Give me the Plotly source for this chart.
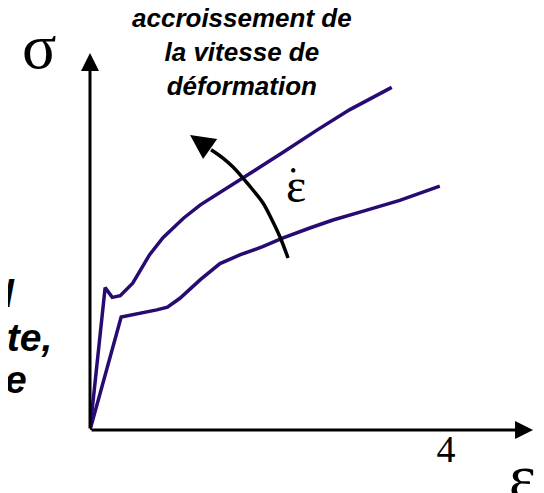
import plotly.graph_objects as go

# stress-strain curves (arbitrary units, x and y on the same scale)
strain_fast = [0, 0.17, 0.25, 0.34, 0.48, 0.67, 0.82, 1.05, 1.24, 1.46, 1.69, 1.91, 2.17, 2.55, 2.92, 3.39]
stress_fast = [0, 1.60, 1.49, 1.51, 1.65, 1.97, 2.16, 2.38, 2.53, 2.67, 2.81, 2.96, 3.12, 3.37, 3.60, 3.85]

strain_slow = [0, 0.35, 0.75, 0.87, 1.01, 1.24, 1.46, 1.69, 1.94, 2.17, 2.47, 2.73, 3.11, 3.48, 3.93]
stress_slow = [0, 1.27, 1.35, 1.38, 1.48, 1.69, 1.87, 1.97, 2.06, 2.16, 2.27, 2.36, 2.47, 2.58, 2.74]

# curved arrow "increasing strain rate"
rate_arrow_x = [2.225, 2.135, 2.045, 1.944, 1.831, 1.719, 1.607, 1.494, 1.36]
rate_arrow_y = [1.933, 2.169, 2.360, 2.551, 2.697, 2.831, 2.955, 3.056, 3.15]
rate_arrow_tip = (1.124, 3.315)

tick_vals = [4]
tick_text = ["4"]

x_end = 4.978
y_end = 4.236

# axis spans (same units as the data); origin sits at the bottom-left of the plot area
X_SPAN = 5.191
Y_SPAN = 4.742

CURVE = 'rgb(40, 10, 115)'
SANS = 'Liberation Sans, Arial, sans-serif'
SERIF = 'Liberation Serif, Times New Roman, serif'


def label(xd, yd, text, font, xanchor='center', **kw):
    # paper coordinates so labels outside the axis ranges are still drawn
    return dict(xref='paper', yref='paper', x=xd / X_SPAN, y=yd / Y_SPAN,
                xanchor=xanchor, yanchor='middle',
                text=text, showarrow=False, font=font, **kw)


fig = go.Figure()
fig.add_trace(go.Scatter(x=strain_fast, y=stress_fast, mode='lines',
                         line=dict(color=CURVE, width=3.5), hoverinfo='skip'))
fig.add_trace(go.Scatter(x=strain_slow, y=stress_slow, mode='lines',
                         line=dict(color=CURVE, width=3.5), hoverinfo='skip'))
fig.add_trace(go.Scatter(x=rate_arrow_x, y=rate_arrow_y, mode='lines',
                         line=dict(color='black', width=3.5, shape='spline'),
                         hoverinfo='skip'))

axis_arrow = dict(xref='x', yref='y', axref='x', ayref='y', text='',
                  showarrow=True, arrowhead=2, arrowsize=1.2, arrowwidth=3,
                  arrowcolor='black', ax=0, ay=0)

big_serif = dict(family=SERIF, size=64, color='black')
left_font = dict(family=SANS, size=39, color='black')

annotations = [
    dict(axis_arrow, x=x_end, y=0),
    dict(axis_arrow, x=0, y=y_end),
    dict(xref='x', yref='y', axref='x', ayref='y', text='', showarrow=True,
         x=rate_arrow_tip[0], y=rate_arrow_tip[1],
         ax=rate_arrow_x[-1], ay=rate_arrow_y[-1],
         arrowhead=2, arrowsize=1.4, arrowwidth=3.5, arrowcolor='black'),
    label(-0.567, 4.31, 'σ', big_serif),
    label(4.865, -0.52, 'ε', big_serif),
    label(2.315, 2.75, 'ε', dict(family=SERIF, size=48, color='black')),
    label(2.28, 2.91, '•', dict(family=SERIF, size=18, color='black')),
    label(1.708, 4.247,
          '<b><i>accroissement de<br>la vitesse de<br>déformation</i></b>',
          dict(family=SANS, size=26, color='black'), align='center'),
    label(-0.82, 1.53, '<b><i>d</i></b>', left_font, xanchor='right'),
    label(-0.40, 1.045, '<b><i>nte,</i></b>', left_font, xanchor='right'),
    label(-0.69, 0.562, '<b><i>e</i></b>', left_font, xanchor='right'),
]

# the page body adds an 8 px offset, so the margins are 8 px smaller than the picture's
fig.update_layout(
    width=544, height=493,
    margin=dict(l=82, r=0, t=0, b=71),
    paper_bgcolor='white', plot_bgcolor='white',
    showlegend=False,
    annotations=annotations,
    xaxis=dict(range=[0, X_SPAN], showgrid=False, zeroline=False, showline=False,
               tickvals=tick_vals, ticktext=tick_text, ticks='',
               ticklabelstandoff=-7,
               tickfont=dict(family=SERIF, size=38, color='black')),
    yaxis=dict(range=[0, Y_SPAN], showgrid=False, zeroline=False, showline=False,
               showticklabels=False, ticks=''),
)

fig.write_html("out.html")
